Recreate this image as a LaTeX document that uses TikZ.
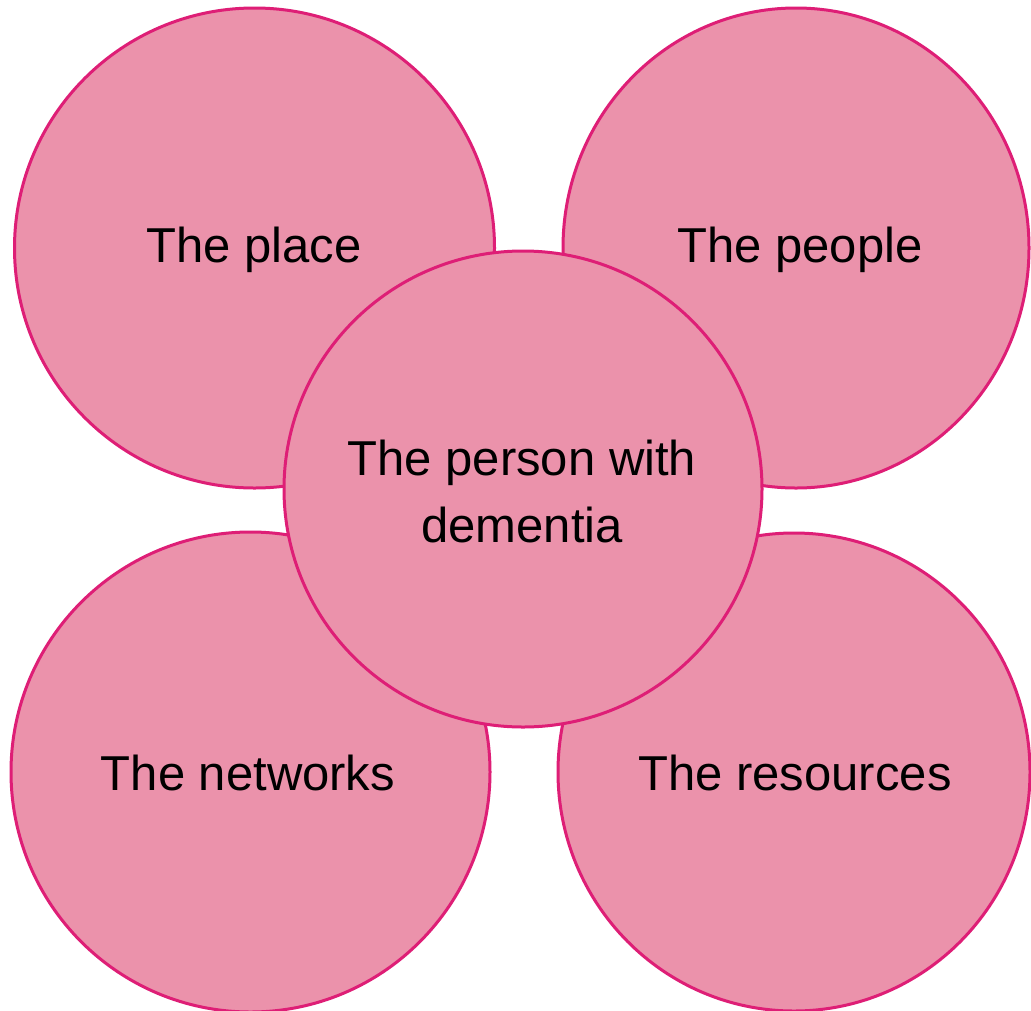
\documentclass[tikz,border=0pt]{standalone}
\usepackage{fontspec}
\setmainfont{Liberation Sans}
\usetikzlibrary{shapes.geometric}
\definecolor{petal}{RGB}{235,146,171}
\definecolor{rim}{RGB}{222,30,118}
\tikzset{
  blob/.style={ellipse, draw=rim, fill=petal, line width=3pt, inner sep=0pt, outer sep=0pt},
  txt/.style={font=\fontsize{49}{67}\selectfont, align=center, text=black, inner sep=0pt},
}
\begin{document}
\begin{tikzpicture}[x=1pt,y=-1pt]
\useasboundingbox (0,0) rectangle (1031,1010);
\fill[white] (0,0) rectangle (1031,1010);
\node[blob, minimum width=480pt, minimum height=480pt] (place) at (254.5,248) {};
\node[blob, minimum width=466pt, minimum height=480pt] (people) at (796,248) {};
\node[blob, minimum width=479pt, minimum height=480pt] (networks) at (250.5,772) {};
\node[blob, minimum width=472pt, minimum height=478pt] (resources) at (794,772) {};
\node[txt] (placet) at (254,250) {The place};
\node[txt] (peoplet) at (800,250) {The people};
\node[txt] (networkst) at (248,773) {The networks};
\node[txt] (resourcest) at (795,773) {The resources};
\node[blob, minimum width=478pt, minimum height=476pt] (person) at (523,489) {};
\node[txt] (persont) at (522,491) {The person with\\dementia};
\end{tikzpicture}
\end{document}
